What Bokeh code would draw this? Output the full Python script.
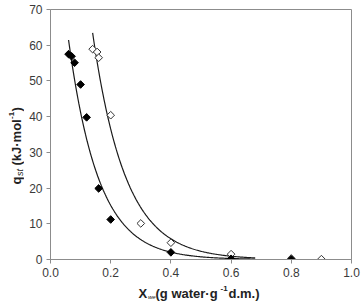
import numpy as np
from bokeh.plotting import figure
from bokeh.layouts import row, column
from bokeh.models import Range1d, FixedTicker, NumeralTickFormatter, Label
from bokeh.embed import file_html
from bokeh.resources import INLINE

# Measured isosteric heat of sorption vs equilibrium moisture content
x_filled = [0.06, 0.07, 0.08, 0.10, 0.12, 0.16, 0.20, 0.40, 0.60, 0.80]
q_filled = [57.5, 56.9, 55.1, 49.0, 39.8, 19.9, 11.2, 2.0, 0.2, 0.05]

x_open = [0.14, 0.155, 0.16, 0.20, 0.30, 0.40, 0.60, 0.80, 0.90]
q_open = [58.9, 58.1, 56.5, 40.4, 10.1, 4.7, 1.5, 0.3, 0.1]

# Exponential fits q = a * exp(-b * X)
fit_filled = dict(a=112.0, b=10.0, x0=0.06, x1=0.68)
fit_open = dict(a=230.0, b=9.2, x0=0.14, x1=0.68)

x_ticks = [0.0, 0.2, 0.4, 0.6, 0.8, 1.0]
y_ticks = [0, 10, 20, 30, 40, 50, 60, 70]

FONT = "Liberation Sans"
AXIS_GREY = "#8c8c8c"
TITLE_COLOR = "#222222"

YT_W = 24      # width of the strip holding the y-axis title
XT_H = 22      # height of the strip holding the x-axis title
W, H = 362, 303

# ---- main plot -----------------------------------------------------------
p = figure(width=W - YT_W, height=H - XT_H, output_backend="svg",
           toolbar_location=None, x_range=Range1d(0, 1), y_range=Range1d(0, 70),
           min_border_left=26, min_border_right=11,
           min_border_top=9, min_border_bottom=22)
p.grid.visible = False
p.outline_line_color = AXIS_GREY
p.outline_line_width = 1
p.background_fill_color = "white"
p.border_fill_color = "white"

for ax in (p.xaxis[0], p.yaxis[0]):
    ax.axis_line_color = AXIS_GREY
    ax.major_tick_line_color = AXIS_GREY
    ax.major_tick_in = 0
    ax.major_tick_out = 4
    ax.minor_tick_line_color = None
    ax.major_label_text_font = FONT
    ax.major_label_text_font_size = "12px"
    ax.major_label_text_color = "#3a3a3a"
    ax.major_label_standoff = 4

p.xaxis.ticker = FixedTicker(ticks=x_ticks)
p.xaxis.formatter = NumeralTickFormatter(format="0.0")
p.yaxis.ticker = FixedTicker(ticks=y_ticks)


def fit_curve(f, n=200):
    xs = np.linspace(f["x0"], f["x1"], n)
    return xs, f["a"] * np.exp(-f["b"] * xs)


for f in (fit_filled, fit_open):
    xs, ys = fit_curve(f)
    p.line(xs, ys, line_color="#1a1a1a", line_width=1.2)

p.scatter(x_open, q_open, marker="square", angle=np.pi / 4, size=5.4,
          fill_color="white", line_color="#333333", line_width=1)
p.scatter(x_filled, q_filled, marker="square", angle=np.pi / 4, size=5.4,
          fill_color="black", line_color="black", line_width=1)


# ---- axis titles with sub/superscripts, each in its own text strip -------
def strip(width, height):
    s = figure(width=width, height=height, output_backend="svg", title=None,
               toolbar_location=None, x_axis_type=None, y_axis_type=None,
               min_border_left=0, min_border_right=0,
               min_border_top=0, min_border_bottom=0,
               x_range=Range1d(0, 1), y_range=Range1d(0, 1))
    s.grid.visible = False
    s.outline_line_color = None
    s.background_fill_color = "white"
    s.border_fill_color = "white"
    return s


def put(fig, text, x, y, size, style, angle=0.0):
    fig.add_layout(Label(x=x, y=y, x_units="screen", y_units="screen",
                         text=text, text_font=FONT, text_font_size=size,
                         text_font_style=style, text_color=TITLE_COLOR,
                         angle=angle, text_baseline="alphabetic",
                         text_align="left"))


# y title: q_st (kJ·mol^-1), reading upwards
ys_fig = strip(YT_W, H)
r = np.pi / 2
put(ys_fig, "q", 16, H - 184, "13px", "bold", r)
put(ys_fig, "st", 19, H - 175.5, "9px", "italic", r)
put(ys_fig, "(kJ·mol", 16, H - 165, "13px", "bold", r)
put(ys_fig, "-1", 11, H - 118.5, "8px", "bold", r)
put(ys_fig, ")", 16, H - 111, "13px", "bold", r)

# x title: X_we (g water·g^-1 d.m.), offsets relative to the strip
XT_DX, XT_DY = 52, 288
xs_fig = strip(W - YT_W, XT_H)
put(xs_fig, "X", 140 - XT_DX, H - XT_DY - 5, "13px", "bold")
put(xs_fig, "we", 149.5 - XT_DX, H - XT_DY - 8, "6px", "italic")
put(xs_fig, "(g water·g", 157 - XT_DX, H - XT_DY - 5, "13px", "bold")
put(xs_fig, "-1", 222 - XT_DX, H - XT_DY, "8px", "bold")
put(xs_fig, "d.m.)", 230 - XT_DX, H - XT_DY - 5, "13px", "bold")

layout = row(ys_fig, column(p, xs_fig, spacing=0), spacing=0)

open("out.html", "w").write(file_html(layout, INLINE))
